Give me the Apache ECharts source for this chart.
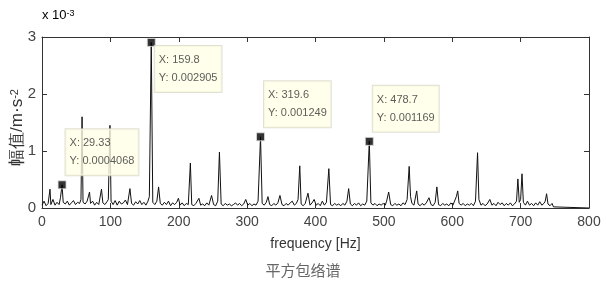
<!DOCTYPE html>
<html><head><meta charset="utf-8">
<script src="https://cdn.jsdelivr.net/npm/echarts@6/dist/echarts.min.js"></script>
<style>html,body{margin:0;padding:0;background:#fff}#c{width:606px;height:294px}</style>
</head><body><div id="c"></div>
<script>
// amplitude in units of 1e-3 m·s^-2
var freq = [0,3,6,9,11.7,13,16,19,22,25,27,29.33,31,34,37,40,43,46,49,52,55,57,58.6,60,63,66,69.5,71,74,77,80,83,87,89,92,95,97,99.4,101,104,107,110,113,116,119,122,125,128.6,131,134,137,140,143,146,149,152,155,157,159.8,162,165,168,170.5,173,176,179,182,185,188,191,194,197,199.5,202,205,208,211,214,217,219,222,225,229.5,232,235,238,241,244,248,251,254,257,259.5,262,265,268,271,274,277,280,283,286,289,292,295,298,301,304,307,310,313,316,319.6,322,325,328,330.5,333,336,339,342,345,348,351,354,357,360,363,366,369,372,374.5,377,379,382,385,389,392,395,398,401,404,407,410,413,416,419.5,422,425,428,431,434,437,440,443,446,448.5,451,454,457,460,463,466,469,472,475,478.7,481,484,487,490,493,496,499,502,504,507,510,513,516,519,522,525,528,531,534,537,539,541,544,548,550,553,556,559,562,566,569,572,575,577.5,580,583,586,589,592,595,598,601,604,606,608,610,613,616,619,622,625,628,631,634,637,639,642,645,648,651,655,658,661,664,667,670,673,676,679,682,685,688,691,694,696,698,700,702,704,707,710,713,716,719,722,725,728,731,734,736,738,740,743,746,748,750,800];
var amp = [0.05,0.12,0.04,0.08,0.33,0.06,0.15,0.05,0.10,0.06,0.18,0.4068,0.10,0.07,0.12,0.05,0.09,0.13,0.06,0.10,0.08,0.15,1.6,0.10,0.07,0.12,0.28,0.08,0.12,0.05,0.10,0.06,0.33,0.09,0.06,0.11,0.15,1.45,0.12,0.06,0.13,0.05,0.12,0.07,0.09,0.14,0.06,0.34,0.08,0.05,0.11,0.07,0.13,0.06,0.10,0.05,0.12,0.2,2.905,0.1,0.06,0.12,0.37,0.08,0.05,0.10,0.06,0.12,0.04,0.09,0.06,0.10,0.17,0.05,0.09,0.04,0.08,0.06,0.79,0.06,0.04,0.08,0.17,0.05,0.07,0.04,0.09,0.05,0.22,0.06,0.04,0.12,0.98,0.07,0.04,0.08,0.05,0.07,0.04,0.06,0.09,0.05,0.08,0.04,0.07,0.15,0.05,0.08,0.04,0.07,0.05,0.12,1.249,0.08,0.05,0.10,0.20,0.06,0.04,0.08,0.05,0.09,0.22,0.06,0.04,0.08,0.05,0.09,0.12,0.05,0.08,0.15,0.74,0.07,0.04,0.08,0.26,0.05,0.09,0.15,0.05,0.08,0.04,0.12,0.05,0.10,0.69,0.06,0.04,0.08,0.05,0.07,0.04,0.08,0.05,0.12,0.34,0.07,0.04,0.08,0.05,0.09,0.04,0.07,0.05,0.12,1.169,0.09,0.05,0.08,0.04,0.07,0.05,0.08,0.05,0.12,0.28,0.06,0.04,0.08,0.05,0.07,0.04,0.09,0.06,0.15,0.73,0.20,0.08,0.05,0.30,0.07,0.04,0.08,0.05,0.09,0.18,0.06,0.04,0.10,0.37,0.06,0.04,0.08,0.05,0.07,0.04,0.09,0.05,0.14,0.20,0.30,0.08,0.05,0.08,0.04,0.07,0.05,0.08,0.04,0.12,0.97,0.15,0.05,0.08,0.04,0.07,0.15,0.05,0.08,0.04,0.10,0.06,0.09,0.04,0.08,0.05,0.09,0.04,0.07,0.12,0.51,0.10,0.15,0.60,0.10,0.05,0.12,0.05,0.08,0.04,0.09,0.05,0.11,0.05,0.08,0.12,0.25,0.07,0.04,0.08,0.02,0,0];
var markX = [29.33, 159.8, 319.6, 478.7];
var markY = [0.0004068, 0.002905, 0.001249, 0.001169];
var xTicks = [0,100,200,300,400,500,600,700,800];
var yTicks = [0,1,2,3];

var FONT = '"Liberation Sans",Arial,sans-serif';
var lineData = freq.map(function(f,i){return [f, amp[i]];});
var markData = markX.map(function(x,i){return [x, markY[i]*1000, markY[i]];});
var labelOffsets = [[8,-51],[8,8],[8,-51],[8,-51]];

var chart = echarts.init(document.getElementById('c'), null, {renderer:'canvas'});
function axisCommon(o){
  return Object.assign({
    axisLine:{show:true,onZero:false,lineStyle:{color:'#333',width:1}},
    axisTick:{show:true,inside:true,length:5,lineStyle:{color:'#333'}},
    splitLine:{show:false}
  }, o);
}
chart.setOption({
  animation:false,
  grid:{left:42,right:17,top:37,bottom:86,containLabel:false,outerBoundsMode:'none'},
  xAxis:[
    axisCommon({type:'value',min:xTicks[0],max:xTicks[xTicks.length-1],interval:100,position:'bottom',
      name:'frequency [Hz]',nameLocation:'middle',nameGap:29,nameMoveOverlap:false,
      nameTextStyle:{fontFamily:FONT,fontSize:14,color:'#333'},
      axisLabel:{fontFamily:FONT,fontSize:14,color:'#444',margin:7}}),
    axisCommon({type:'value',min:0,max:800,interval:100,position:'top',axisLabel:{show:false}})
  ],
  yAxis:[
    axisCommon({type:'value',min:yTicks[0],max:yTicks[yTicks.length-1],interval:1,position:'left',
      name:'{a|幅值/m·s}{s|-2}',nameLocation:'middle',nameGap:16,nameRotate:90,nameMoveOverlap:false,
      nameTextStyle:{fontFamily:FONT,color:'#333',padding:[0,10,0,0],rich:{a:{fontSize:17,fontFamily:FONT,color:'#333'},s:{fontSize:11,fontFamily:FONT,color:'#333',verticalAlign:'top',lineHeight:17}}},
      axisLabel:{fontFamily:FONT,fontSize:15,color:'#444',margin:6}}),
    axisCommon({type:'value',min:0,max:3,interval:1,position:'right',axisLabel:{show:false}})
  ],
  graphic:[
    {type:'text',left:42,top:9,style:{text:'{a|x 10}{s|-3}',rich:{a:{fontFamily:FONT,fontSize:13,color:'#333',verticalAlign:'bottom'},s:{fontFamily:FONT,fontSize:9,color:'#333',verticalAlign:'top'}}}},
    {type:'text',left:'center',top:263,style:{text:'平方包络谱',fontFamily:'"Noto Sans CJK SC",sans-serif',fontSize:15,fill:'#666'}}
  ],
  series:[
    {type:'line',data:lineData,showSymbol:false,symbol:'none',lineStyle:{color:'#111',width:1},z:2},
    {type:'scatter',data:markData,symbol:'rect',symbolSize:8,
      itemStyle:{color:'#000',borderColor:'#ddd',borderWidth:1},z:5,
      label:{show:true,formatter:function(p){return 'X: '+p.value[0]+'\nY: '+p.value[2];},
        position:'right',fontFamily:FONT,fontSize:11,color:'#333',lineHeight:18,
        backgroundColor:'#ffffe6',borderColor:'#d8d8c8',borderWidth:1,padding:[5,4,5,4],align:'left',verticalAlign:'top'},
      labelLayout:function(params){
        var i=params.dataIndex;var r=params.rect;
        return {x:r.x+labelOffsets[i][0],y:r.y+labelOffsets[i][1]};
      }
    }
  ]
});
</script></body></html>
